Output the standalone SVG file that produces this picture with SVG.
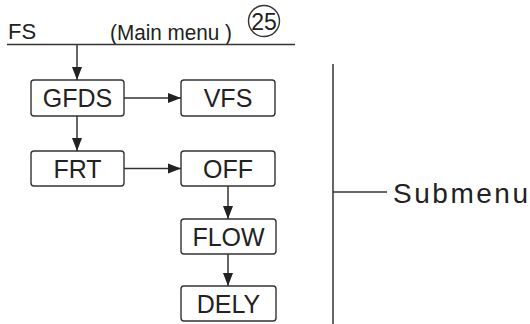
<svg xmlns="http://www.w3.org/2000/svg" width="530" height="324" viewBox="0 0 530 324">
<style>
.box{fill:#fff;stroke:#333;stroke-width:1.4}
.lbl{font-family:"Liberation Sans",Arial,sans-serif;font-size:25px;fill:#222;text-anchor:middle}
.ln{stroke:#333;stroke-width:1.5;fill:none}
.txt{font-family:"Liberation Sans",Arial,sans-serif;fill:#222}
.hd{font-size:22px}
.sub{font-size:28px}
.num{font-size:23px;text-anchor:middle}
</style>
<defs>
<marker id="ah" markerUnits="userSpaceOnUse" markerWidth="14" markerHeight="12" refX="13" refY="6" orient="auto">
<path d="M0,1 L13,6 L0,11 z" fill="#222"/>
</marker>
</defs>
<rect width="530" height="324" fill="#fff"/>
<g id="header">
<text class="txt hd" x="8" y="39">FS</text>
<text class="txt hd" x="110" y="39.5" textLength="122" lengthAdjust="spacingAndGlyphs">(Main menu )</text>
<circle cx="264" cy="21" r="15.5" fill="none" stroke="#333" stroke-width="1.4"/>
<text class="txt num" x="264" y="29.5">25</text>
<line class="ln" x1="7" y1="44.5" x2="295" y2="44.5"/>
</g>
<g id="node-gfds"><rect class="box" x="31" y="80" width="93" height="36" rx="3"/><text class="lbl" x="77.5" y="107">GFDS</text></g>
<g id="node-vfs"><rect class="box" x="181" y="80" width="94" height="36" rx="3"/><text class="lbl" x="228" y="107">VFS</text></g>
<g id="node-frt"><rect class="box" x="31" y="151" width="93" height="35" rx="3"/><text class="lbl" x="77.5" y="177.5">FRT</text></g>
<g id="node-off"><rect class="box" x="181" y="151" width="94" height="35" rx="3"/><text class="lbl" x="228" y="177.5">OFF</text></g>
<g id="node-flow"><rect class="box" x="181" y="219" width="95" height="35" rx="3"/><text class="lbl" x="228.5" y="245.5">FLOW</text></g>
<g id="node-dely"><rect class="box" x="181" y="286" width="95" height="35" rx="3"/><text class="lbl" x="228.5" y="312.5">DELY</text></g>
<g id="submenu">
<line class="ln" x1="333" y1="64" x2="333" y2="324"/>
<line class="ln" x1="333" y1="192" x2="387" y2="192"/>
<text class="txt sub" x="393" y="203" textLength="135" lengthAdjust="spacing">Submenu</text>
</g>
<g id="connectors">
<line class="ln" x1="77" y1="45" x2="77" y2="80" marker-end="url(#ah)"/>
<line class="ln" x1="77" y1="116" x2="77" y2="151" marker-end="url(#ah)"/>
<line class="ln" x1="124" y1="98" x2="181" y2="98" marker-end="url(#ah)"/>
<line class="ln" x1="124" y1="168.5" x2="181" y2="168.5" marker-end="url(#ah)"/>
<line class="ln" x1="228" y1="186" x2="228" y2="219" marker-end="url(#ah)"/>
<line class="ln" x1="228" y1="254" x2="228" y2="286" marker-end="url(#ah)"/>
</g>
</svg>
